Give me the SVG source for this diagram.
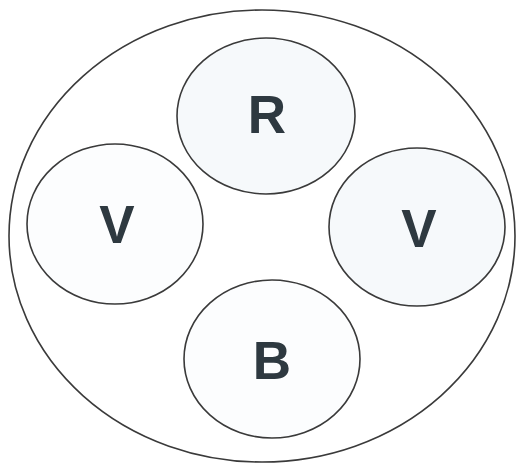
<svg xmlns="http://www.w3.org/2000/svg" width="517" height="464" viewBox="0 0 517 464">
<style>
.o{fill:#ffffff;stroke:#3a3a3a;stroke-width:1.6}
.t{fill:#fcfdfe;stroke:#3a3a3a;stroke-width:1.6}
.b{fill:#f6f9fb;stroke:#3a3a3a;stroke-width:1.6}
text{font-family:"Liberation Sans",Arial,sans-serif;font-weight:bold;font-size:53px;fill:#2e3940;text-anchor:middle}
</style>
<rect width="517" height="464" fill="#ffffff"/>
<g id="outer"><ellipse class="o" cx="262" cy="236" rx="253" ry="226"/></g>
<g id="nodeR"><ellipse class="b" cx="266" cy="116" rx="89" ry="78"/><text x="267" y="133">R</text></g>
<g id="nodeVleft"><ellipse class="t" cx="115" cy="224" rx="88" ry="80"/><text x="117" y="243">V</text></g>
<g id="nodeVright"><ellipse class="b" cx="417" cy="227" rx="88" ry="79"/><text x="419" y="247">V</text></g>
<g id="nodeB"><ellipse class="t" cx="272" cy="359" rx="88" ry="79"/><text x="272" y="379">B</text></g>
<g id="connectors"></g>
</svg>
